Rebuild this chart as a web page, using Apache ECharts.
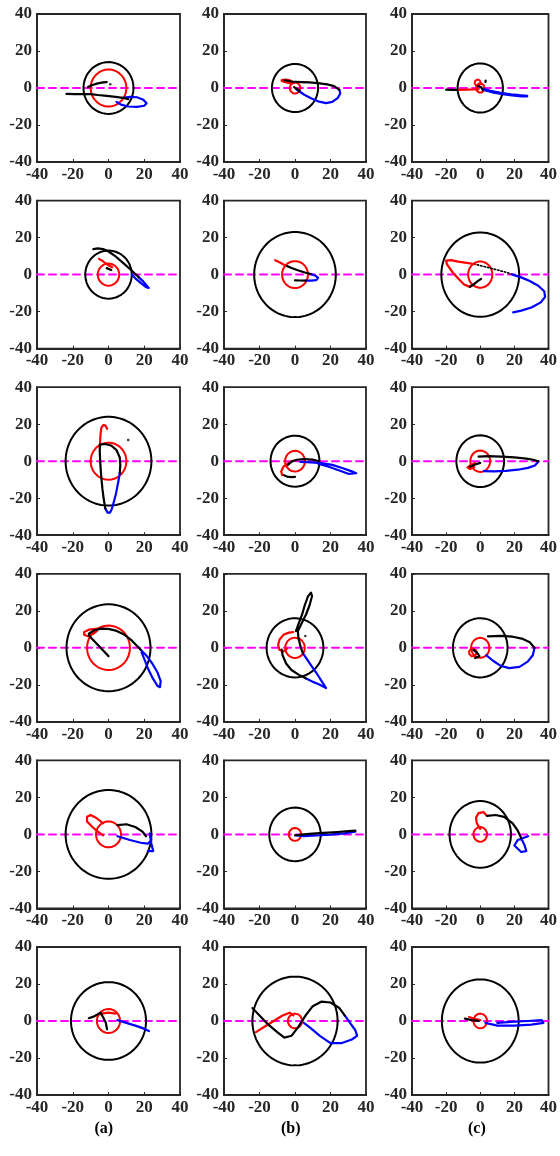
<!DOCTYPE html>
<html>
<head>
<meta charset="utf-8">
<script src="https://cdn.jsdelivr.net/npm/echarts@6/dist/echarts.min.js"></script>
<style>
  html, body { margin: 0; padding: 0; background: #fff; }
  #chart { width: 560px; height: 1156px; }
</style>
</head>
<body>
<div id="chart"></div>
<script>
// Axis range and tick labels shared by every panel
const axisMin = -40, axisMax = 40, axisStep = 20;
const columnLabels = ['(a)', '(b)', '(c)'];

// Radius of the outer (black) and inner (red) circle in each panel, row by row
const outerRadius = [14, 13, 13.3,  13, 23, 22.8,  24, 13.8, 14,  23.5, 16, 16,  24, 14.5, 18,  21, 24, 22.5];
const innerRadius = [10, 3, 2.5,  6, 7.3, 7.1,  10, 5.6, 5.8,  12, 5.5, 5.4,  7, 3.5, 4,  6.5, 4, 4];

// ---- Trajectories, panel by panel ----
// row 1
const p1Black  = [[-23.5,-3.2],[-19,-3.3],[-14,-3.3],[-10,-3.3],[-6,-3.8],[-1,-4.3],[4,-4.8],[8,-5.3],[11,-6]];
const p1Black2 = [[-11.5,0.5],[-9,1.6],[-6,2.5],[-3,3],[-1,3.2]];
const p1Blue   = [[8,-5.3],[12,-4.8],[16,-5],[19.5,-6.3],[21.3,-8.2],[20,-9.6],[16,-10.2],[11,-10],[7,-9],[4.5,-7.5]];
const p1Dot    = [[1,2]];

const p2Red    = [[-7.5,4.3],[-5,4.6],[-2.5,4],[-0.5,2.8],[-2,2.5],[-5,3],[-7.5,3.8]];
const p2Black  = [[-6,4.2],[-2,3.5],[3,3.2],[8,3],[13,2.6],[18,2],[22,1],[25,-1]];
const p2Blue   = [[25,-1],[25.5,-3],[24,-5.5],[21,-7.5],[17.5,-8.2],[13,-7.2],[9,-5.5],[5,-3.5],[2,-1.5],[0.5,-0.5]];
const p2Black2 = [[-0.5,0.5],[1,-0.5],[2.5,-1.5]];

const p3Black  = [[-20,-0.9],[-16,-1],[-12.4,-1]];
const p3Red    = [[-12.4,-1],[-8,-0.9],[-4,-0.8],[-1,-0.6]];
const p3Loop   = [[-1.5,2.8,1.8]];
const p3Blue   = [[1,-0.3],[6,-1.5],[12,-2.6],[18,-3.4],[23,-3.9],[27.5,-4.2]];
const p3Blue2  = [[2,-1],[8,-2.5],[14,-3.5],[20,-4.2],[24,-4.6],[27.5,-4.6]];
const p3Black2 = [[-1.5,1],[0.5,0.5],[-0.5,-0.5],[1.5,-1]];
const p3Black3 = [[3,3.2],[3.2,4]];

// row 2
const p4Red    = [[-5.3,8.5],[-3.5,7.5],[-1.5,6],[0.5,4.8],[2,4]];
const p4Black  = [[-8.5,13.8],[-6,14.2],[-3,13.8],[0,12.5],[4,9.8],[8,6.5],[12,3],[15,0.3],[17,-1.5]];
const p4Blue   = [[17,-1.5],[19.5,-3.8],[22.5,-7.2],[21,-6.8],[18,-4.5],[15,-2],[13,0]];
const p4Black2 = [[-1,3.5],[0,3],[1.5,2.5]];

const p5Red    = [[-11.2,7.8],[-9,6.8],[-6.5,5.5],[-4.5,4.6]];
const p5Black  = [[-4.5,4.6],[-2,3.6],[2,2.2],[6,1],[9,0.3]];
const p5Blue   = [[9,0.3],[11.5,-0.6],[13,-1.8],[12,-3],[9,-3.3],[6,-3.3]];
const p5Black2 = [[6,-3.3],[3,-3.2],[0,-3.1]];

const p6Red    = [[-3,5.6],[-8,6.3],[-13,7],[-17,7.8],[-20,7.6],[-19.5,5.5],[-16,1],[-12.5,-2.5],[-9.5,-5.3],[-6.5,-6.5],[-4,-5.5]];
const p6Black  = [[-6,-6.6],[-3.5,-5],[-1.5,-3.5],[0.5,-2.3]];
const p6Dotted = [[-3.8,5.8],[3,4.2],[10,2.5],[15,1.3],[19,0]];
const p6Blue   = [[19,0],[24,-1.5],[29,-3.5],[34,-6],[37.5,-9],[38,-12],[35.5,-15],[30,-17.8],[24,-19.5],[19.3,-20.4]];

// row 3
const p7Red    = [[-4.8,7],[-4.7,11],[-4.4,15],[-4,18],[-3,19.5],[-1.8,19.4],[-0.8,17.5]];
const p7Black  = [[-4.8,9],[-2,9.3],[1.5,8.5],[4.5,6],[6.3,2],[6.6,-2],[6.3,-6.5]];
const p7Blue   = [[6.3,-6.5],[5.5,-11],[4.3,-17],[3,-22],[1.8,-26],[0.8,-27.8],[-0.5,-27.8],[-1.8,-25.5]];
const p7Black2 = [[-1.8,-25.5],[-2.6,-21],[-3.4,-15],[-4.1,-8],[-4.6,-1],[-4.9,5],[-4.8,9]];
const p7Dot    = [[11,11.5]];

const p8Red    = [[-1,0.3],[-4,-1.2],[-6.5,-3],[-7.8,-5.5],[-7.2,-7.5]];
const p8Black  = [[-6.2,-7.6],[-4.5,-8.3],[-2,-8.6],[0,-8.5]];
const p8Black2 = [[-4,-2],[-2,-0.3],[1,0.8],[5,1.2],[10,0.9],[13.5,0]];
const p8Blue   = [[3,-0.4],[9,-0.6],[15,-1],[21,-2],[27,-3.8],[32,-5.5],[34.5,-6.5],[33.5,-7.5],[30,-6.8],[25,-5],[19,-3],[13,-1.3]];

const p9Red    = [[-3,-1],[-5.5,-2],[-7.5,-3.3],[-6,-4.2],[-3.5,-3.2]];
const p9Black  = [[-6,-3],[-3,-1.8],[0,-0.9]];
const p9Black2 = [[-1,2.5],[5,2.7],[12,2.5],[20,2.1],[27,1.4],[31,0.8],[34,0]];
const p9Blue   = [[34,-0.3],[32,-2.3],[28,-3.6],[22,-4.6],[15,-5.2],[8,-5.5],[2,-5.4]];

// row 4
const p10Red    = [[-3,10.5],[-7,10.3],[-11,9.8],[-13.6,8.6],[-13.6,7],[-11.5,6.2],[-9,7.3],[-6.5,9]];
const p10Black  = [[0,-4.5],[-3,-1.5],[-6,1.6],[-9,4.6],[-11,6.8]];
const p10Black2 = [[-11,7.6],[-8,9.5],[-4,10.4],[0,10.2],[4,9.3],[9,7],[13,4],[16,1],[18,-1]];
const p10Blue   = [[18,-1],[21,-4],[24.5,-8.5],[27.5,-13.5],[29.2,-18],[28.8,-21.3],[27.3,-20.5],[24.5,-16],[22,-11],[20,-6],[18.5,-2.5]];

const p11Red    = [[-1,8.5],[-3.5,8.2],[-6.5,7],[-8.7,4.5],[-9.5,1.5],[-8.8,-1],[-6.5,-2],[-4.5,-0.5]];
const p11Black  = [[0.5,9],[2,13],[4,18],[5.5,23],[7.3,27.8],[9,29.8],[9.6,28],[8.2,23],[6.2,18],[3.6,13],[1.6,9],[2,5],[3.3,0],[4.5,-3]];
const p11Blue   = [[4.5,-3],[8,-8],[12,-13.5],[15,-18],[17.5,-21.8],[14,-20],[10,-18.3],[6,-16.5]];
const p11Black2 = [[6,-16.5],[2,-14.5],[-2,-12],[-5,-8.5],[-7,-4],[-7.5,-1]];
const p11Dot    = [[5.8,6.4]];

const p12Loop   = [[-4.4,-2.5,2.2]];
const p12Black  = [[-4,-1.2],[-2,-2.5],[-0.5,-4.5],[-3,-5.5]];
const p12Black2 = [[4.5,6.2],[12,6.4],[19,6],[25,4.8],[29,3],[31.8,0]];
const p12Blue   = [[31.8,0],[30.8,-4],[27.8,-7.5],[23,-10.3],[17,-11],[12,-9.8],[7.5,-7],[3.5,-4]];

// row 5
const p13Red    = [[-3,6],[-7,9],[-10,10.5],[-12,9.5],[-12,7],[-9,4],[-6,1.5],[-3,-0.5]];
const p13Black  = [[5,5],[10,5.5],[15,4],[19,1.5],[21,-1]];
const p13Blue   = [[5,-1],[12,-3],[18,-4.5],[22,-5],[24,-3],[23,0.5],[24,-5],[25,-9],[22,-9]];

const p14Black  = [[0,-0.5],[8,0.3],[16,0.8],[24,1.3],[30,1.8],[34,2]];
const p14Blue   = [[34,1.5],[28,0.6],[20,-0.1],[12,-0.6],[5,-0.9],[1,-0.5]];

const p15Red    = [[0,3],[-2,6],[-2.5,9],[-1,11.5],[2,12],[4,10]];
const p15Black  = [[4,10],[9,10.5],[14,9.5],[19,6],[22,2],[24,-2]];
const p15Blue   = [[24,-2],[26,-6],[27,-9],[24,-9.5],[20,-6],[22,-3],[28,-1]];

// row 6
const p16Red    = [[-7,3],[-4,4],[0,4.5],[4,4]];
const p16Black  = [[-11,1.5],[-8,2.5],[-4.5,4.5],[-3,2],[-1.5,-1],[-0.8,-4.5]];
const p16Blue   = [[5,0.5],[10,-1],[15,-2.5],[19.5,-4],[22.6,-5.4]];

const p17Red    = [[-22,-6],[-17,-3],[-12,0],[-7,3],[-3,4.5],[-1,3]];
const p17Black  = [[-24,7],[-20,3],[-15,-2],[-10,-6],[-6,-9],[-2,-8],[2,-3],[6,3],[10,8],[15,10.5],[20,10],[25,7],[28,3]];
const p17Blue   = [[28,3],[31,-1],[34,-5],[35,-8],[32,-10],[26,-12],[20,-12],[14,-8],[9,-4],[5,-1]];

const p18Red    = [[-6.5,2.2],[-3.5,1.2],[0,0.5]];
const p18Black  = [[-9,1.3],[-5,0.5],[-1,0]];
const p18Blue   = [[3,-1],[10,-2.5],[20,-2.5],[30,-2],[37,-1],[36,0.5],[28,0],[18,-0.5],[10,-1]];

// Curves grouped by panel: [points, colour key]
const panelCurves = [
  [[p1Black,'k'],[p1Black2,'k'],[p1Blue,'b'],[p1Dot,'dot']],
  [[p2Red,'r'],[p2Black,'k'],[p2Blue,'b'],[p2Black2,'k']],
  [[p3Black,'k'],[p3Red,'r'],[p3Loop,'rring'],[p3Blue,'b'],[p3Blue2,'b'],[p3Black2,'k'],[p3Black3,'k']],
  [[p4Red,'r'],[p4Black,'k'],[p4Blue,'b'],[p4Black2,'k']],
  [[p5Red,'r'],[p5Black,'k'],[p5Blue,'b'],[p5Black2,'k']],
  [[p6Red,'r'],[p6Black,'k'],[p6Dotted,'kdot'],[p6Blue,'b']],
  [[p7Red,'r'],[p7Black,'k'],[p7Blue,'b'],[p7Black2,'k'],[p7Dot,'dot']],
  [[p8Red,'r'],[p8Black,'k'],[p8Black2,'k'],[p8Blue,'b']],
  [[p9Red,'r'],[p9Black,'k'],[p9Black2,'k'],[p9Blue,'b']],
  [[p10Red,'r'],[p10Black,'k'],[p10Black2,'k'],[p10Blue,'b']],
  [[p11Red,'r'],[p11Black,'k'],[p11Blue,'b'],[p11Black2,'k'],[p11Dot,'dot']],
  [[p12Loop,'rring'],[p12Black,'k'],[p12Black2,'k'],[p12Blue,'b']],
  [[p13Red,'r'],[p13Black,'k'],[p13Blue,'b']],
  [[p14Black,'k'],[p14Blue,'b']],
  [[p15Red,'r'],[p15Black,'k'],[p15Blue,'b']],
  [[p16Red,'r'],[p16Black,'k'],[p16Blue,'b']],
  [[p17Red,'r'],[p17Black,'k'],[p17Blue,'b']],
  [[p18Red,'r'],[p18Black,'k'],[p18Blue,'b']]
];

// ---- Layout ----
const colBoxes = [{ left: 37, width: 143 }, { left: 224, width: 142 }, { left: 412, width: 140 }];
const rowTop0 = 14, rowStep = 186.6, boxHeight = 148;

const FONT = '"Liberation Serif", "Times New Roman", serif';
const AXIS_COLOR = '#262626';
const COLORS = { k: '#000000', r: '#ff0000', b: '#0000ff' };

// closed circle outline sampled around a centre
function ring(cx, cy, r) {
  const pts = [];
  for (let i = 0; i <= 90; i++) {
    const t = i / 90 * Math.PI * 2;
    pts.push([cx + r * Math.cos(t), cy + r * Math.sin(t)]);
  }
  return pts;
}

const grids = [], xAxes = [], yAxes = [], series = [];

function lineSeries(idx, data, color, width, type, z) {
  return {
    type: 'line', xAxisIndex: idx, yAxisIndex: idx, data: data,
    showSymbol: false, symbol: 'none', silent: true, animation: false,
    lineStyle: { color: color, width: width, type: type || 'solid', cap: 'round', join: 'round' },
    z: z || 2
  };
}

for (let p = 0; p < 18; p++) {
  const r = Math.floor(p / 3), c = p % 3;
  grids.push({
    left: colBoxes[c].left, width: colBoxes[c].width,
    top: rowTop0 + r * rowStep, height: boxHeight,
    show: true, borderColor: AXIS_COLOR, borderWidth: 1.8, backgroundColor: '#fff'
  });
  const common = {
    gridIndex: p, type: 'value', min: axisMin, max: axisMax, interval: axisStep,
    axisLine: { show: true, onZero: false, lineStyle: { color: AXIS_COLOR, width: 1.8 } },
    axisTick: { show: true, inside: true, length: 3, lineStyle: { color: AXIS_COLOR, width: 1 } },
    splitLine: { show: false }
  };
  const label = { show: true, fontFamily: FONT, fontWeight: 'bold', fontSize: 17, color: AXIS_COLOR };
  xAxes.push(Object.assign({}, common, { position: 'bottom', axisLabel: Object.assign({ margin: 4 }, label) }));
  yAxes.push(Object.assign({}, common, { position: 'left', axisLabel: Object.assign({ margin: 5 }, label) }));

  const xi = p;
  // dashed reference line along y = 0
  series.push(lineSeries(xi, [[axisMin, 0], [axisMax, 0]], '#ff00ff', 2, [7, 5], 1));
  // outer and inner circles
  series.push(lineSeries(xi, ring(0, 0, outerRadius[p]), '#000000', 2, 'solid', 2));
  series.push(lineSeries(xi, ring(0, 0, innerRadius[p]), '#ff0000', 2, 'solid', 3));

  panelCurves[p].forEach(function (item) {
    const pts = item[0], key = item[1];
    if (key === 'dot') {
      series.push({
        type: 'scatter', xAxisIndex: xi, yAxisIndex: xi, data: pts, symbolSize: 2.5,
        itemStyle: { color: '#000' }, silent: true, animation: false, z: 4
      });
    } else if (key === 'rring') {
      pts.forEach(function (q) { series.push(lineSeries(xi, ring(q[0], q[1], q[2]), '#ff0000', 2, 'solid', 3)); });
    } else if (key === 'kdot') {
      series.push(lineSeries(xi, pts, '#000000', 1.6, [1.5, 2], 3));
    } else {
      series.push(lineSeries(xi, pts, COLORS[key], 2.2, 'solid', key === 'b' ? 3 : 4));
    }
  });
}

const graphics = columnLabels.map(function (t, c) {
  return {
    type: 'text', left: colBoxes[c].left + colBoxes[c].width / 2 - 14, top: 1121,
    style: { text: t, font: 'bold 16px ' + FONT, fill: '#000' }
  };
});

const chart = echarts.init(document.getElementById('chart'), null, { renderer: 'canvas' });
chart.setOption({
  animation: false,
  backgroundColor: '#ffffff',
  grid: grids, xAxis: xAxes, yAxis: yAxes, series: series, graphic: graphics
});
</script>
</body>
</html>
